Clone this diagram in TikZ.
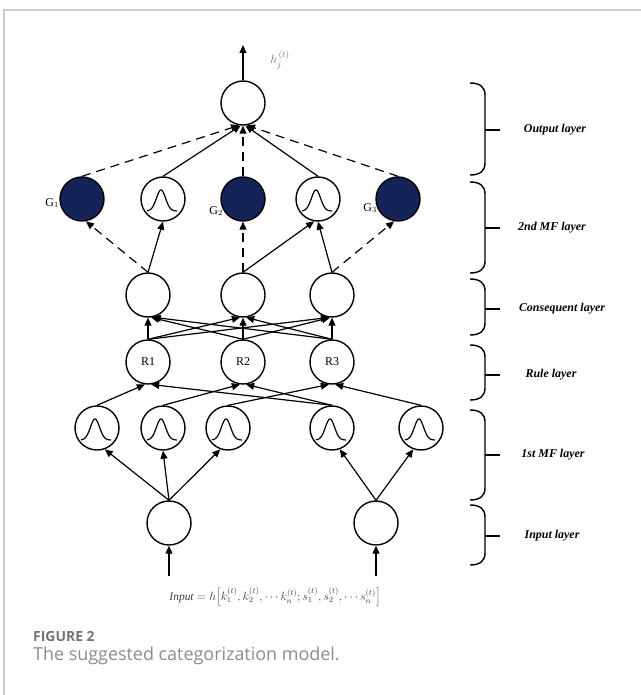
\documentclass[tikz,border=0pt]{standalone}
\usepackage{fontspec}
\setmainfont{Liberation Serif}
\newfontfamily\capfont{Open Sans}
\usetikzlibrary{arrows.meta}
\definecolor{navy}{RGB}{22,35,88}
\definecolor{framegray}{RGB}{205,205,205}
\definecolor{capgray}{RGB}{115,115,115}
\definecolor{captwogray}{RGB}{140,140,140}
\definecolor{labgray}{RGB}{120,120,120}
\definecolor{formgray}{RGB}{60,60,60}
\newcommand\bellat[1]{\draw[bellcurve,shift={(#1)}] plot[domain=-16:14,samples=60,smooth] (\x,{12-21*exp(-((\x+2)/6.5)^2)});}
\newcommand\layerbrace[3]{%
  \draw[bracepath] (470,#1) .. controls (480,#1) and (485,#1+4) .. (485,#1+12) -- (485,#2-12) .. controls (485,#2-4) and (480,#2) .. (470,#2);
  \draw[bracepath] (485,#3) -- (500,#3);}
\begin{document}
\begin{tikzpicture}[x=1bp,y=-1bp,
  neuron/.style={circle,draw,line width=1.4bp,minimum size=44bp,inner sep=0pt,font=\fontsize{12}{14}\selectfont},
  gnode/.style={neuron,fill=navy},
  conn/.style={line width=1.2bp,-{Triangle[length=8bp,width=7bp]}},
  dconn/.style={conn,dash pattern=on 9bp off 6bp},
  bracepath/.style={line width=1.4bp},
  layerlab/.style={font=\fontsize{12}{14}\selectfont\bfseries\itshape},
  glab/.style={font=\fontsize{12}{14}\selectfont,inner sep=1bp},
  bellcurve/.style={line width=1.2bp}
]
\useasboundingbox (0,0) rectangle (641,695);
\draw[framegray,line width=1.2bp] (4,695) -- (4,10) -- (641,10);

% output
\node[neuron] (out) at (243,103) {};
\coordinate (top) at (243,45);
\draw[conn] (out.north) -- (top);
\node[font=\fontsize{13}{15}\selectfont,text=labgray] (hlab) at (280,60) {$h_j^{\,(t)}$};

% 2nd MF layer
\node[gnode] (g1) at (82,199) {};
\node[neuron] (mf1) at (163,199) {};
\node[gnode] (g2) at (243,199) {};
\node[neuron] (mf2) at (318,199) {};
\node[gnode] (g3) at (398,199) {};
\bellat{mf1}
\bellat{mf2}
\node[glab,anchor=east] (g1l) at (60,203) {G$_1$};
\node[glab,anchor=east] (g2l) at (224,211) {G$_2$};
\node[glab,anchor=east] (g3l) at (378,208) {G$_3$};

% consequent
\node[neuron] (c1) at (148,295) {};
\node[neuron] (c2) at (243,295) {};
\node[neuron] (c3) at (332,295) {};

% rule
\node[neuron] (r1) at (148,362) {R1};
\node[neuron] (r2) at (243,362) {R2};
\node[neuron] (r3) at (332,362) {R3};

% 1st MF
\node[neuron] (m1) at (97,428) {};
\node[neuron] (m2) at (163,428) {};
\node[neuron] (m3) at (228,428) {};
\node[neuron] (m4) at (332,428) {};
\node[neuron] (m5) at (421,428) {};
\foreach \m in {m1,m2,m3,m4,m5} {\bellat{\m}}

% input
\node[neuron] (i1) at (169,523) {};
\node[neuron] (i2) at (376,523) {};
\coordinate (in1) at (169,576);
\coordinate (in2) at (376,576);
\draw[conn] (in1) -- (i1.south);
\draw[conn] (in2) -- (i2.south);

% connections to output
\draw[dconn] (g1.north) -- (out.-100);
\draw[conn] (mf1.north) -- (out.-96);
\draw[dconn] (g2.north) -- (out.south);
\draw[conn] (mf2.north) -- (out.-84);
\draw[dconn] (g3.north) -- (out.-80);

% consequent -> 2nd MF
\draw[dconn] (c1.north) -- (g1.-80);
\draw[conn] (c1.north) -- (mf1.south);
\draw[dconn] (c2.north) -- (g2.south);
\draw[conn] (c2.north) -- (mf2.-100);
\draw[conn] (c3.north) -- (mf2.south);
\draw[dconn] (c3.north) -- (g3.-100);

% rule -> consequent
\draw[conn] (r1.north) -- (c1.south);
\draw[conn] (r1.north) -- (c2.-98);
\draw[conn] (r1.north) -- (c3.-98);
\draw[conn] (r2.north) -- (c1.-82);
\draw[conn] (r2.north) -- (c2.south);
\draw[conn] (r2.north) -- (c3.-95);
\draw[conn] (r3.north) -- (c1.-78);
\draw[conn] (r3.north) -- (c2.-82);
\draw[conn] (r3.north) -- (c3.south);

% 1st MF -> rule
\draw[conn] (m1.north) -- (r1.-98);
\draw[conn] (m4.north) -- (r1.-82);
\draw[conn] (m2.north) -- (r2.-98);
\draw[conn] (m4.north) -- (r2.-82);
\draw[conn] (m3.north) -- (r3.-98);
\draw[conn] (m5.north) -- (r3.-82);

% input -> 1st MF
\draw[conn] (i1.north) -- (m1.-70);
\draw[conn] (i1.north) -- (m2.south);
\draw[conn] (i1.north) -- (m3.-110);
\draw[conn] (i2.north) -- (m4.-70);
\draw[conn] (i2.north) -- (m5.-110);

% formula
\node[text=formgray,font=\fontsize{11.5}{13}\selectfont] (formula) at (275,597)
  {$\mathit{Input}=h\Bigl[k_1^{(t)},k_2^{(t)},\cdots k_n^{(t)};s_1^{(t)},s_2^{(t)},\cdots s_n^{(t)}\Bigr]$};

% braces
\layerbrace{83}{175}{130}
\layerbrace{182}{273}{228}
\layerbrace{279}{335}{309}
\layerbrace{345}{400}{375}
\layerbrace{410}{500}{455}
\layerbrace{505}{565}{536}
\node[layerlab] (lout) at (555,130) {Output layer};
\node[layerlab] (lmf2) at (552,228) {2nd MF layer};
\node[layerlab] (lcon) at (562,309) {Consequent layer};
\node[layerlab] (lrule) at (551,375) {Rule layer};
\node[layerlab] (lmf1) at (553,455) {1st MF layer};
\node[layerlab] (linp) at (552,536) {Input layer};

% caption
\node[anchor=west,text=capgray,font=\capfont\bfseries\fontsize{14}{16}\selectfont,inner sep=0pt] (fig) at (33,637) {FIGURE 2};
\node[anchor=west,text=captwogray,font=\capfont\fontsize{18}{20}\selectfont,inner sep=0pt] (cap) at (33,656) {The suggested categorization model.};
\end{tikzpicture}
\end{document}
